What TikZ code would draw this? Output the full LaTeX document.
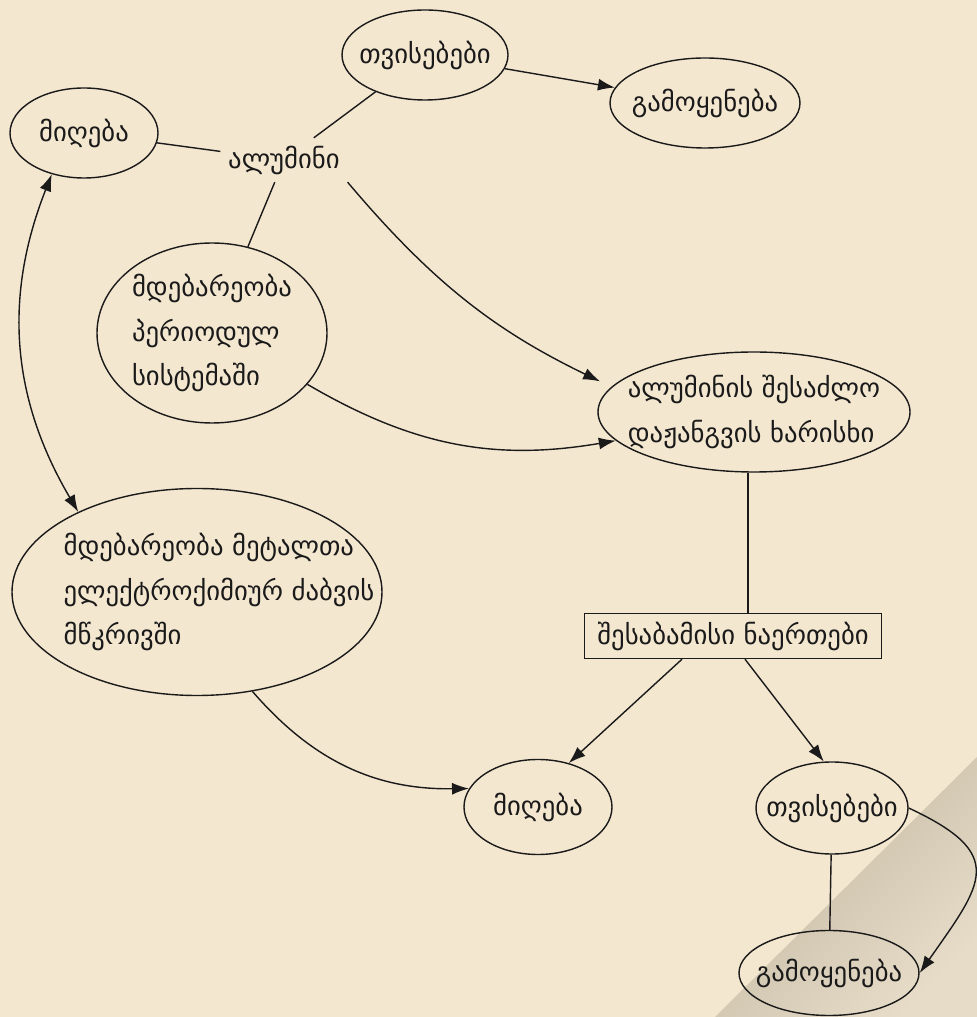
\documentclass[tikz,border=0pt]{standalone}
\usepackage{fontspec}
\setmainfont{DejaVu Sans}
\usetikzlibrary{arrows.meta, shapes.geometric, positioning}
\definecolor{paper}{HTML}{F4E7D0}
\definecolor{ink}{HTML}{1A1A1A}
\definecolor{paperdark}{HTML}{C2B69F}
\definecolor{paperlight}{HTML}{E6DCC8}

\begin{document}
\begin{tikzpicture}[
    every node/.style={font=\fontsize{15.2pt}{25.5pt}\selectfont, text=ink},
    oval/.style={ellipse, draw=ink, line width=0.8pt, inner sep=-2cm, align=left},
    box/.style={rectangle, draw=ink, line width=0.8pt, minimum width=5.94cm, minimum height=0.90cm},
    link/.style={ink, line width=0.8pt},
    arr/.style={-{Latex[length=3.4mm, width=2.4mm]}, ink, line width=0.8pt},
    dbl/.style={{Latex[length=3.4mm, width=2.4mm]}-{Latex[length=3.4mm, width=2.4mm]}, ink, line width=0.8pt},
]

% ============================================================ the sheet
\fill[paper] (0, 0) rectangle (19.54, 20.34);
\shade[top color=paperdark, bottom color=paperlight, shading angle=45]
    (19.54, 5.20) -- (19.54, 0) -- (14.30, 0) -- cycle;
\useasboundingbox (0, 0) rectangle (19.54, 20.34);

% ============================================================ upper part
\node[inner sep=0.15cm] (alum) at (5.68, 17.14) {ალუმინი};
\node[oval, minimum width=3.32cm, minimum height=1.80cm] (prop1) at (8.50, 19.24) {თვისებები};
\node[oval, minimum width=3.80cm, minimum height=1.80cm] (use1) at (14.10, 18.28) {გამოყენება};
\node[oval, minimum width=2.96cm, minimum height=1.80cm] (get1) at (1.68, 17.68) {მიღება};
\node[oval, minimum width=4.60cm, minimum height=3.60cm] (period) at (4.24, 13.68)
    {მდებარეობა\\პერიოდულ\\სისტემაში};
\node[oval, minimum width=6.24cm, minimum height=2.40cm] (oxid) at (15.08, 12.10)
    {ალუმინის შესაძლო\\დაჟანგვის ხარისხი};

% ============================================================ lower part
% the text sits a little right of the oval's centre
\node[oval, minimum width=7.40cm, minimum height=4.14cm] (series) at (3.94, 8.50) {};
\node[align=left, xshift=0.44cm] (seriestext) at (series)
    {მდებარეობა მეტალთა\\ელექტროქიმიურ ძაბვის\\მწკრივში};
\node[box] (comp) at (14.66, 7.62) {შესაბამისი ნაერთები};
\node[oval, minimum width=2.96cm, minimum height=1.90cm] (get2) at (10.76, 4.20) {მიღება};
\node[oval, minimum width=3.04cm, minimum height=1.84cm] (prop2) at (16.64, 4.18) {თვისებები};
\node[oval, minimum width=3.60cm, minimum height=1.70cm] (use2) at (16.58, 0.88) {გამოყენება};

% ============================================================ connectors
\draw[link] (get1) -- (alum);
\draw[link] (alum) -- (prop1);
\draw[link] (alum) -- (period);
\draw[arr] (prop1) -- (use1);
\draw[arr, shorten >=0.25cm] (alum.south east) to[bend right=12] (oxid.170);
\draw[arr] (period) to[bend right=20] (oxid);
\draw[dbl] (get1.232) to[bend right=26] (series.146);

\draw[link] ([xshift=-0.12cm]oxid.south) -- ([xshift=-0.12cm]oxid.south |- comp.north);
\draw[arr] ([xshift=-1.02cm]comp.south) -- (get2.55);
\draw[arr] ([xshift=0.24cm]comp.south) -- (prop2.100);
\draw[arr] (series) to[bend right=25] (get2.165);

\draw[link] (prop2) -- (use2);
\draw[arr] (prop2.east) to[out=-25, in=55, looseness=1.7] (use2.east);

\end{tikzpicture}
\end{document}
